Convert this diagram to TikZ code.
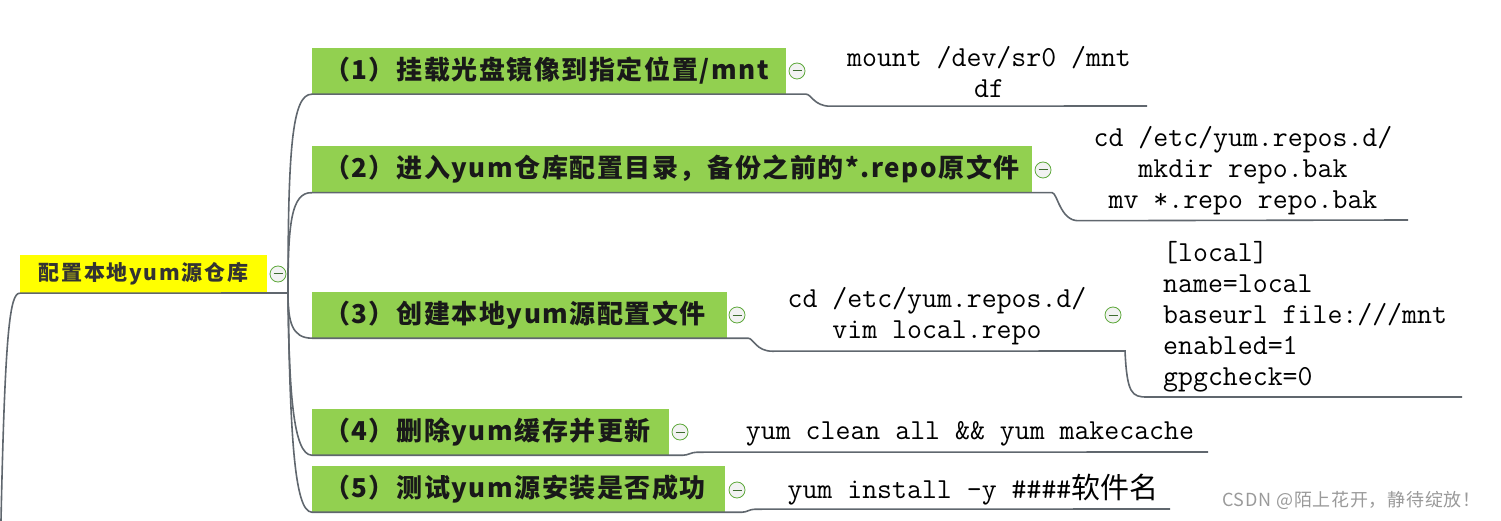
\documentclass[tikz,border=0pt]{standalone}
\usepackage{fontspec}
\newfontfamily\cjk{Noto Sans CJK SC}
\newfontfamily\cjkbox[LetterSpace=6]{Noto Sans CJK SC}
\newfontfamily\cjkroot[LetterSpace=8]{Noto Sans CJK SC}
\newfontfamily\cjkwm[LetterSpace=4]{Noto Sans CJK SC}
\definecolor{boxgreen}{HTML}{92D050}
\definecolor{rootyellow}{HTML}{FFFF00}
\definecolor{linegray}{HTML}{60676E}
\definecolor{mgreen}{HTML}{5DA83A}
\definecolor{mfill}{HTML}{F2F2F2}
\definecolor{mdash}{HTML}{3E6B30}
\definecolor{wmgray}{HTML}{9A9A9A}
\begin{document}
\begin{tikzpicture}[x=1pt,y=-1pt,
  conn/.style={draw=linegray, line width=1.6pt},
  greenbox/.style={fill=boxgreen, inner xsep=0pt, inner ysep=0pt, minimum height=46pt,
    text width=#1, align=left, font=\cjkbox\bfseries\fontsize{26}{30}\selectfont, text=black!90},
  rootbox/.style={fill=rootyellow, inner sep=0pt, minimum width=247pt, minimum height=38pt,
    font=\cjkroot\bfseries\fontsize{21}{24}\selectfont, text=black!80},
  codetext/.style={font=\ttfamily\fontsize{29}{31}\selectfont, align=center, inner sep=0pt},
  collapse/.style={circle, draw=mgreen, fill=mfill, minimum size=16pt, inner sep=0pt, line width=0.8pt,
    path picture={\draw[mdash, line width=1pt] ([xshift=-4.5pt]path picture bounding box.center) -- ([xshift=4.5pt]path picture bounding box.center);}}
]
\useasboundingbox (0,0) rectangle (1501,521);

% root
\node[rootbox] (root) at (143.5,274) {配置本地yum源仓库};
\node[collapse] (m0) at (278,274) {};
\coordinate (hub) at (288,293);
\coordinate (lend) at (1,521);

% branch boxes
\node[greenbox=474pt] (b1) at (549,71) {\hspace*{12pt}（1）挂载光盘镜像到指定位置/mnt};
\node[greenbox=720pt] (b2) at (672,169.5) {\hspace*{12pt}（2）进入yum仓库配置目录，备份之前的*.repo原文件};
\node[greenbox=415pt] (b3) at (519.5,315) {\hspace*{12pt}（3）创建本地yum源配置文件};
\node[greenbox=357pt] (b4) at (490.5,432) {\hspace*{12pt}（4）删除yum缓存并更新};
\node[greenbox=413pt] (b5) at (518.5,489) {\hspace*{12pt}（5）测试yum源安装是否成功};

\node[collapse] (m1) at (797,71) {};
\node[collapse] (m2) at (1043,170) {};
\node[collapse] (m3) at (737,315) {};
\node[collapse] (m3b) at (1113,315) {};
\node[collapse] (m4) at (680,432) {};
\node[collapse] (m5) at (737,490) {};

% code texts
\node[codetext] (c1) at (989,72.5) {mount /dev/sr0 /mnt\\df};
\node[codetext] (c2) at (1243,171) {cd /etc/yum.repos.d/\\mkdir repo.bak\\mv *.repo repo.bak};
\node[codetext] (c3) at (937,316.5) {cd /etc/yum.repos.d/\\vim local.repo};
\node[codetext, align=left, anchor=west] (c4) at (1163,316.5) {[local]\\name=local\\baseurl file:///mnt\\enabled=1\\gpgcheck=0};
\node[codetext] (c5) at (970,434) {yum clean all \&\& yum makecache};
\node[codetext] (c6) at (973,490) {yum install -y \#\#\#\#{\cjk 软件名}};

% end coordinates
\coordinate (e1) at (1147,106);
\coordinate (e2) at (1408,220);
\coordinate (k3) at (1125,351);
\coordinate (e3) at (1462,397);
\coordinate (e4) at (1208,452);
\coordinate (e5) at (1170,509);

% connectors
\draw[conn] (root.south west) -- (hub);
\draw[conn] (root.south west) .. controls (10,293) and (5,330) .. (lend);
\draw[conn] (hub) .. controls (288,150) and (292,94) .. (b1.south west) -- (b1.south east)
  -- ++(20,0) .. controls ++(5,0) and ++(-16,0) .. ++(24,12) -- (e1);
\draw[conn] (hub) .. controls (288,225) and (291,192) .. (b2.south west) -- (b2.south east)
  -- ++(20,0) .. controls ++(5,0) and ++(-18,0) .. ++(26,28) -- (e2);
\draw[conn] (hub) .. controls (288,322) and (292,338) .. (b3.south west) -- (b3.south east)
  -- ++(21,0) .. controls ++(5,0) and ++(-16,0) .. ++(24,13) -- (k3)
  .. controls (1127,394) and (1132,397) .. (1147,397) -- (e3);
\draw[conn] (hub) .. controls (289,390) and (293,455) .. (b4.south west) -- (b4.south east)
  -- ++(14,0) .. controls ++(5,0) and ++(-6,0) .. ++(14,-3) -- (e4);
\draw[conn] (hub) .. controls (290,430) and (294,512) .. (b5.south west) -- (b5.south east)
  -- ++(17,0) .. controls ++(5,0) and ++(-6,0) .. ++(13,-3) -- (e5);

% watermark
\node[font=\cjkwm\fontsize{18}{20}\selectfont, text=wmgray, anchor=west, inner sep=0pt] (wm) at (1222,500) {CSDN @陌上花开，静待绽放！};
\end{tikzpicture}
\end{document}
